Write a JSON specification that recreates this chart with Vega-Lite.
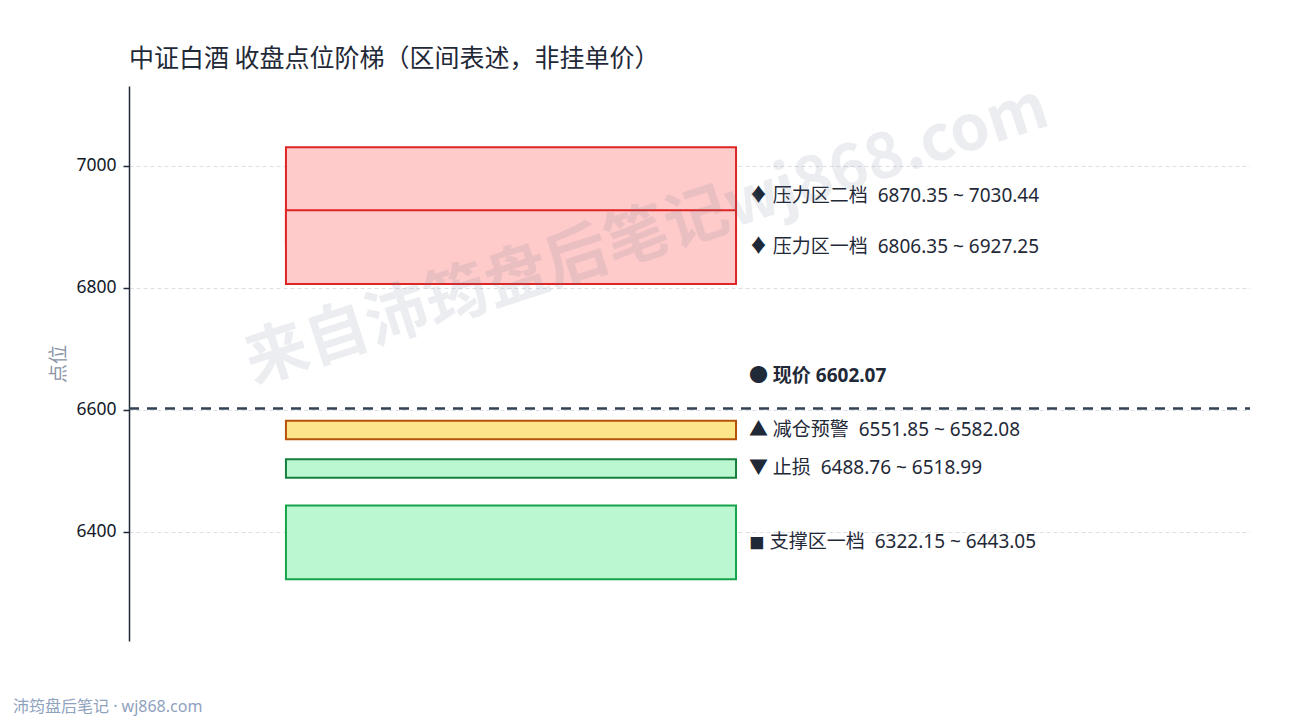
{
  "$schema": "https://vega.github.io/schema/vega-lite/v6.json",
  "description": "中证白酒 收盘点位阶梯",
  "autosize": {"type": "none"},
  "width": 1121,
  "height": 555,
  "padding": {"left": 129, "top": 86, "right": 40, "bottom": 79},
  "background": "white",
  "config": {
    "font": "Noto Sans, Noto Sans CJK SC",
    "view": {"stroke": null}
  },
  "title": {
    "text": "中证白酒 收盘点位阶梯（区间表述，非挂单价）",
    "anchor": "start",
    "frame": "group",
    "font": "Noto Sans CJK SC",
    "fontSize": 25,
    "fontWeight": "normal",
    "color": "#1f2937",
    "offset": 5
  },
  "datasets": {
    "bands": [
      {"band": "压力区二档", "lo": 6870.35, "hi": 7030.44},
      {"band": "压力区一档", "lo": 6806.35, "hi": 6927.25},
      {"band": "减仓预警", "lo": 6551.85, "hi": 6582.08},
      {"band": "止损", "lo": 6488.76, "hi": 6518.99},
      {"band": "支撑区一档", "lo": 6322.15, "hi": 6443.05}
    ],
    "labels": [
      {"label": "♦ 压力区二档\u00a0\u00a06870.35 ~ 7030.44", "mid": 6950.4},
      {"label": "♦ 压力区一档\u00a0\u00a06806.35 ~ 6927.25", "mid": 6866.8},
      {"label": "▲ 减仓预警\u00a0\u00a06551.85 ~ 6582.08", "mid": 6566.97},
      {"label": "▼ 止损\u00a0\u00a06488.76 ~ 6518.99", "mid": 6503.88},
      {"label": "◼ 支撑区一档\u00a0\u00a06322.15 ~ 6443.05", "mid": 6382.6}
    ],
    "price": [{"label": "● 现价 6602.07", "price": 6602.07}],
    "marks": [
      {"text": "来自沛筠盘后笔记wj868.com", "x": 0.462, "y": 6885, "role": "watermark"},
      {"text": "沛筠盘后笔记 · wj868.com", "x": -0.1035, "y": 6113, "role": "footer"}
    ]
  },
  "layer": [
    {
      "data": {"name": "bands"},
      "mark": {"type": "rect", "strokeWidth": 2},
      "encoding": {
        "x": {"datum": 0.14, "type": "quantitative", "scale": {"domain": [0, 1]}, "axis": null},
        "x2": {"datum": 0.5415},
        "y": {
          "field": "lo",
          "type": "quantitative",
          "scale": {"domain": [6221, 7131], "nice": false, "zero": false},
          "axis": {
            "title": "点位",
            "titleFont": "Noto Sans CJK SC",
            "titleFontSize": 19,
            "titleFontWeight": "normal",
            "titleColor": "#8a94a6",
            "titlePadding": 7,
            "values": [6400, 6600, 6800, 7000],
            "format": "d",
            "labelFontSize": 17.5,
            "labelColor": "#111827",
            "labelPadding": 7,
            "tickSize": 6,
            "tickColor": "#1f2937",
            "tickWidth": 1.5,
            "domainColor": "#1f2937",
            "domainWidth": 1.5,
            "grid": true,
            "gridColor": "#dcdfe4",
            "gridDash": [4, 3],
            "gridWidth": 1
          }
        },
        "y2": {"field": "hi"},
        "fill": {
          "field": "band",
          "type": "nominal",
          "scale": {
            "domain": ["压力区二档", "压力区一档", "减仓预警", "止损", "支撑区一档"],
            "range": ["#fecaca", "#fecaca", "#fde68a", "#bbf7d0", "#bbf7d0"]
          },
          "legend": null
        },
        "stroke": {
          "field": "band",
          "type": "nominal",
          "scale": {
            "domain": ["压力区二档", "压力区一档", "减仓预警", "止损", "支撑区一档"],
            "range": ["#dc2626", "#dc2626", "#b45309", "#15803d", "#16a34a"]
          },
          "legend": null
        }
      }
    },
    {
      "data": {"name": "price"},
      "mark": {"type": "rule", "color": "#334155", "strokeWidth": 2.5, "strokeDash": [10, 8]},
      "encoding": {
        "x": {"datum": 0, "type": "quantitative"},
        "x2": {"datum": 1},
        "y": {"field": "price", "type": "quantitative"}
      }
    },
    {
      "data": {"name": "labels"},
      "mark": {"type": "text", "align": "left", "baseline": "middle", "fontSize": 19, "color": "#1f2937"},
      "encoding": {
        "x": {"datum": 0.553, "type": "quantitative"},
        "y": {"field": "mid", "type": "quantitative"},
        "text": {"field": "label"}
      }
    },
    {
      "data": {"name": "price"},
      "mark": {"type": "text", "align": "left", "baseline": "middle", "fontSize": 19, "fontWeight": "bold", "color": "#1f2937", "dy": -33},
      "encoding": {
        "x": {"datum": 0.553, "type": "quantitative"},
        "y": {"field": "price", "type": "quantitative"},
        "text": {"field": "label"}
      }
    },
    {
      "data": {"name": "marks"},
      "transform": [{"filter": "datum.role === 'watermark'"}],
      "mark": {"type": "text", "align": "center", "baseline": "middle", "font": "Noto Sans CJK SC", "fontSize": 63, "fontWeight": "bold", "angle": -18, "color": "#64748b", "opacity": 0.12},
      "encoding": {
        "x": {"field": "x", "type": "quantitative"},
        "y": {"field": "y", "type": "quantitative"},
        "text": {"field": "text"}
      }
    },
    {
      "data": {"name": "marks"},
      "transform": [{"filter": "datum.role === 'footer'"}],
      "mark": {"type": "text", "align": "left", "baseline": "middle", "fontSize": 16, "color": "#8fa2be"},
      "encoding": {
        "x": {"field": "x", "type": "quantitative"},
        "y": {"field": "y", "type": "quantitative"},
        "text": {"field": "text"}
      }
    }
  ]
}
